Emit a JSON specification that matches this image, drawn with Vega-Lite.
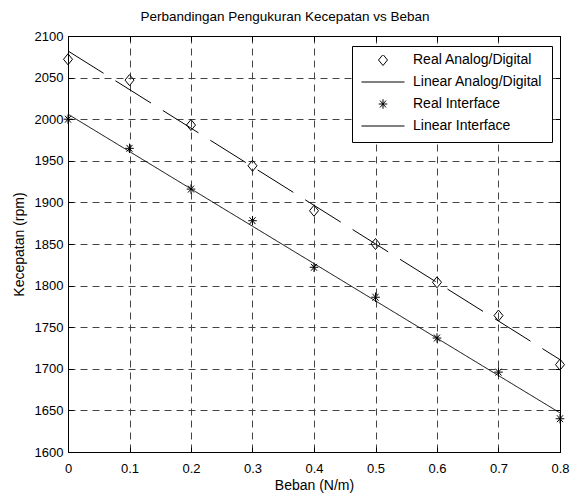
{
  "$schema": "https://vega.github.io/schema/vega-lite/v6.json",
  "width": 492,
  "height": 416,
  "autosize": {"type": "none"},
  "padding": {"left": 68, "top": 36, "right": 10, "bottom": 42},
  "background": "white",
  "title": {
    "text": "Perbandingan Pengukuran Kecepatan vs Beban",
    "font": "Liberation Sans",
    "fontSize": 13.5,
    "fontWeight": "normal",
    "color": "black",
    "anchor": "middle",
    "frame": "group",
    "baseline": "alphabetic",
    "dx": -29,
    "offset": -4
  },
  "datasets": {
    "real": [
      {"beban": 0.0, "kecepatan": 2072, "series": "Real Analog/Digital"},
      {"beban": 0.1, "kecepatan": 2047, "series": "Real Analog/Digital"},
      {"beban": 0.2, "kecepatan": 1993, "series": "Real Analog/Digital"},
      {"beban": 0.3, "kecepatan": 1944, "series": "Real Analog/Digital"},
      {"beban": 0.4, "kecepatan": 1890, "series": "Real Analog/Digital"},
      {"beban": 0.5, "kecepatan": 1850, "series": "Real Analog/Digital"},
      {"beban": 0.6, "kecepatan": 1804, "series": "Real Analog/Digital"},
      {"beban": 0.7, "kecepatan": 1764, "series": "Real Analog/Digital"},
      {"beban": 0.8, "kecepatan": 1705, "series": "Real Analog/Digital"},
      {"beban": 0.0, "kecepatan": 2000, "series": "Real Interface"},
      {"beban": 0.1, "kecepatan": 1965, "series": "Real Interface"},
      {"beban": 0.2, "kecepatan": 1916, "series": "Real Interface"},
      {"beban": 0.3, "kecepatan": 1878, "series": "Real Interface"},
      {"beban": 0.4, "kecepatan": 1822, "series": "Real Interface"},
      {"beban": 0.5, "kecepatan": 1786, "series": "Real Interface"},
      {"beban": 0.6, "kecepatan": 1737, "series": "Real Interface"},
      {"beban": 0.7, "kecepatan": 1696, "series": "Real Interface"},
      {"beban": 0.8, "kecepatan": 1640, "series": "Real Interface"}
    ],
    "linear": [
      {"beban": 0.0, "kecepatan": 2082, "series": "Linear Analog/Digital"},
      {"beban": 0.8, "kecepatan": 1711, "series": "Linear Analog/Digital"},
      {"beban": 0.0, "kecepatan": 2006, "series": "Linear Interface"},
      {"beban": 0.8, "kecepatan": 1647, "series": "Linear Interface"}
    ]
  },
  "layer": [
    {
      "data": {"name": "linear"},
      "mark": {"type": "line", "color": "black", "strokeWidth": 1},
      "encoding": {
        "x": {
          "field": "beban", "type": "quantitative",
          "scale": {"domain": [0, 0.8], "nice": false, "zero": false},
          "axis": {"orient": "top", "labels": false, "grid": false, "title": null,
                   "values": [0, 0.1, 0.2, 0.3, 0.4, 0.5, 0.6, 0.7, 0.8], "tickSize": -5}
        },
        "y": {
          "field": "kecepatan", "type": "quantitative",
          "scale": {"domain": [1600, 2100], "nice": false, "zero": false},
          "axis": {"orient": "right", "labels": false, "grid": false, "title": null,
                   "values": [1600, 1650, 1700, 1750, 1800, 1850, 1900, 1950, 2000, 2050, 2100], "tickSize": -5}
        },
        "detail": {"field": "series", "type": "nominal"},
        "strokeDash": {
          "field": "series", "type": "nominal",
          "scale": {"domain": ["Linear Analog/Digital", "Linear Interface"], "range": [[42, 14], [1, 0]]},
          "legend": null
        }
      }
    },
    {
      "data": {"name": "real"},
      "mark": {"type": "point", "filled": false, "stroke": "black", "strokeWidth": 1, "size": 1849, "opacity": 1},
      "encoding": {
        "x": {
          "field": "beban", "type": "quantitative",
          "scale": {"domain": [0, 0.8], "nice": false, "zero": false},
          "axis": {"orient": "bottom", "title": "Beban (N/m)", "format": ".1~f", "grid": true,
                   "values": [0, 0.1, 0.2, 0.3, 0.4, 0.5, 0.6, 0.7, 0.8], "tickSize": -5,
                   "labelPadding": 15, "titlePadding": 3}
        },
        "y": {
          "field": "kecepatan", "type": "quantitative",
          "scale": {"domain": [1600, 2100], "nice": false, "zero": false},
          "axis": {"orient": "left", "title": "Kecepatan (rpm)", "format": "d", "grid": true,
                   "values": [1600, 1650, 1700, 1750, 1800, 1850, 1900, 1950, 2000, 2050, 2100], "tickSize": -5,
                   "labelPadding": 10, "titlePadding": 8}
        },
        "shape": {
          "field": "series", "type": "nominal",
          "scale": {
            "domain": ["Real Analog/Digital", "Linear Analog/Digital", "Real Interface", "Linear Interface"],
            "range": [
              "M0,-0.256L0.21,0L0,0.256L-0.21,0Z",
              "M-1,0H1",
              "M-0.2,0H0.2M0,-0.22V0.22M-0.14,-0.16L0.14,0.16M-0.14,0.16L0.14,-0.16",
              "M-1,0H1"
            ]
          },
          "legend": {
            "orient": "none", "legendX": 284, "legendY": 10, "title": null,
            "padding": 9, "fillColor": "white", "strokeColor": "black", "cornerRadius": 0,
            "symbolSize": 1849, "symbolStrokeColor": "black", "symbolStrokeWidth": 1,
            "symbolFillColor": "transparent", "symbolOpacity": 1,
            "labelFont": "Liberation Sans", "labelFontSize": 14, "labelColor": "black",
            "labelOffset": 8, "clipHeight": 10, "rowPadding": 8, "symbolOffset": 0,
            "labelLimit": 300
          }
        }
      }
    }
  ],
  "config": {
    "view": {"stroke": "black", "strokeWidth": 1},
    "axis": {
      "domainColor": "black", "domainWidth": 1,
      "tickColor": "black", "tickWidth": 1,
      "labelFont": "Liberation Sans", "labelFontSize": 13, "labelColor": "black",
      "titleFont": "Liberation Sans", "titleFontSize": 14, "titleFontWeight": "normal", "titleColor": "black",
      "gridColor": "#444444", "gridDash": [7, 5], "gridWidth": 1, "gridOpacity": 1,
      "labelFlush": false, "labelOverlap": false
    }
  }
}
